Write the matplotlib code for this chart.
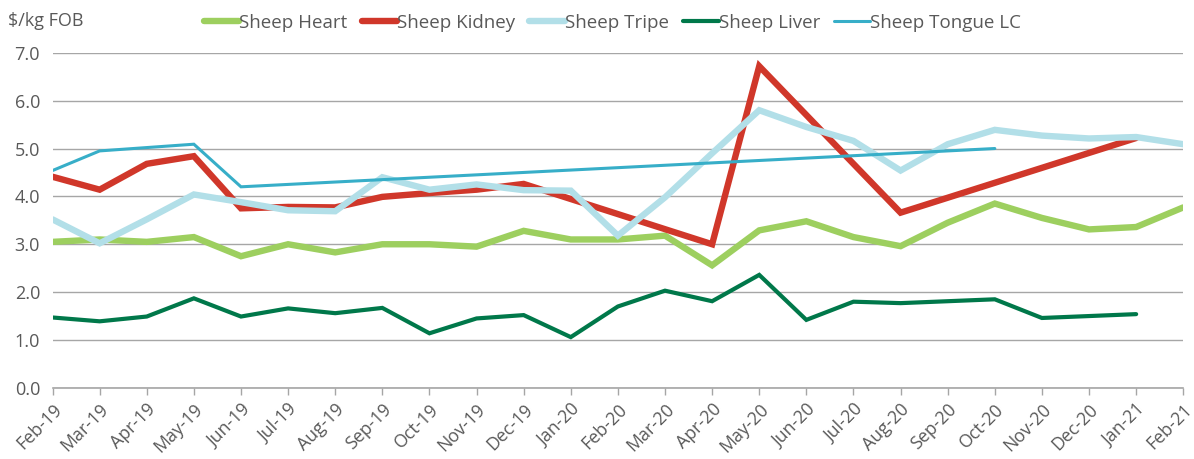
import numpy as np
import matplotlib
matplotlib.use("Agg")
import matplotlib.pyplot as plt

plt.rcParams['font.family'] = ['Open Sans', 'DejaVu Sans']

months = ["Feb-19", "Mar-19", "Apr-19", "May-19", "Jun-19", "Jul-19", "Aug-19", "Sep-19",
          "Oct-19", "Nov-19", "Dec-19", "Jan-20", "Feb-20", "Mar-20", "Apr-20", "May-20",
          "Jun-20", "Jul-20", "Aug-20", "Sep-20", "Oct-20", "Nov-20", "Dec-20", "Jan-21", "Feb-21"]

nan = np.nan
heart = [3.05, 3.10, 3.05, 3.15, 2.75, 3.00, 2.83, 3.00, 3.00, 2.95, 3.28, 3.10, 3.10,
         3.18, 2.56, 3.29, 3.48, 3.15, 2.96, 3.45, 3.85, 3.55, 3.31, 3.36, 3.77]
kidney = [4.41, 4.14, 4.68, 4.84, 3.75, 3.78, 3.77, 3.99, 4.07, 4.14, 4.26, nan, nan,
          nan, 3.00, 6.72, nan, nan, 3.66, nan, nan, nan, nan, 5.22, nan]
tripe = [3.52, 3.02, 3.52, 4.04, 3.88, 3.71, 3.69, 4.40, 4.14, 4.25, 4.13, 4.12, 3.18,
         3.98, 4.90, 5.80, 5.45, 5.16, 4.54, 5.09, 5.39, 5.27, 5.21, 5.24, 5.09]
liver = [1.47, 1.39, 1.49, 1.87, 1.49, 1.66, 1.56, 1.67, 1.14, 1.45, 1.52, 1.06, 1.70,
         2.03, 1.81, 2.36, 1.42, 1.80, 1.77, 1.81, 1.85, 1.46, 1.50, 1.54, nan]
tongue = [4.54, 4.95, 5.02, 5.09, 4.20, nan, nan, nan, nan, nan, nan, nan, nan,
          nan, nan, nan, nan, nan, nan, nan, 5.00, nan, nan, nan, nan]

series = [
    ("Sheep Heart", heart, "#9DCF5F", 4.6),
    ("Sheep Kidney", kidney, "#D0372A", 4.6),
    ("Sheep Tripe", tripe, "#B2DFE8", 4.6),
    ("Sheep Liver", liver, "#00784A", 3.0),
    ("Sheep Tongue LC", tongue, "#37AEC8", 2.2),
]

fig = plt.figure(figsize=(11.94, 4.59), dpi=100)
ax = fig.add_axes([0.044, 0.155, 0.947, 0.730])

x = np.arange(len(months))
for name, vals, col, lw in series:
    v = np.array(vals, dtype=float)
    ok = ~np.isnan(v)          # gaps are joined like in the original
    ax.plot(x[ok], v[ok], color=col, lw=lw, label=name, solid_joinstyle="miter",
            solid_capstyle="round")

ax.set_xlim(0, len(months) - 1)
ax.set_ylim(0, 7)
ax.set_yticks(np.arange(0, 8, 1))
ax.set_yticklabels([f"{t:.1f}" for t in range(8)])
ax.set_xticks(x)
ax.set_xticklabels(months, rotation=45, ha="right", va="top", rotation_mode="anchor")

ax.grid(axis="y", color="#A6A6A6", lw=1)
ax.set_axisbelow(True)
for s in ["left", "right", "top"]:
    ax.spines[s].set_visible(False)
ax.spines["bottom"].set_color("#A6A6A6")
ax.spines["bottom"].set_linewidth(1.2)
ax.tick_params(axis="y", length=0, pad=9, labelsize=13, labelcolor="#595959")
ax.tick_params(axis="x", length=5, color="#A6A6A6", width=1, pad=4,
               labelsize=12.8, labelcolor="#595959")

fig.text(0.007, 0.955, r"\$/kg FOB", fontsize=13, color="#595959", va="center")

ax.legend(loc="center", bbox_to_anchor=(0.495, 1.09), ncol=5, frameon=False,
          handlelength=1.9, handletextpad=0.0, columnspacing=0.75,
          fontsize=13.5, labelcolor="#595959")

fig.savefig("out.png", dpi=100)
